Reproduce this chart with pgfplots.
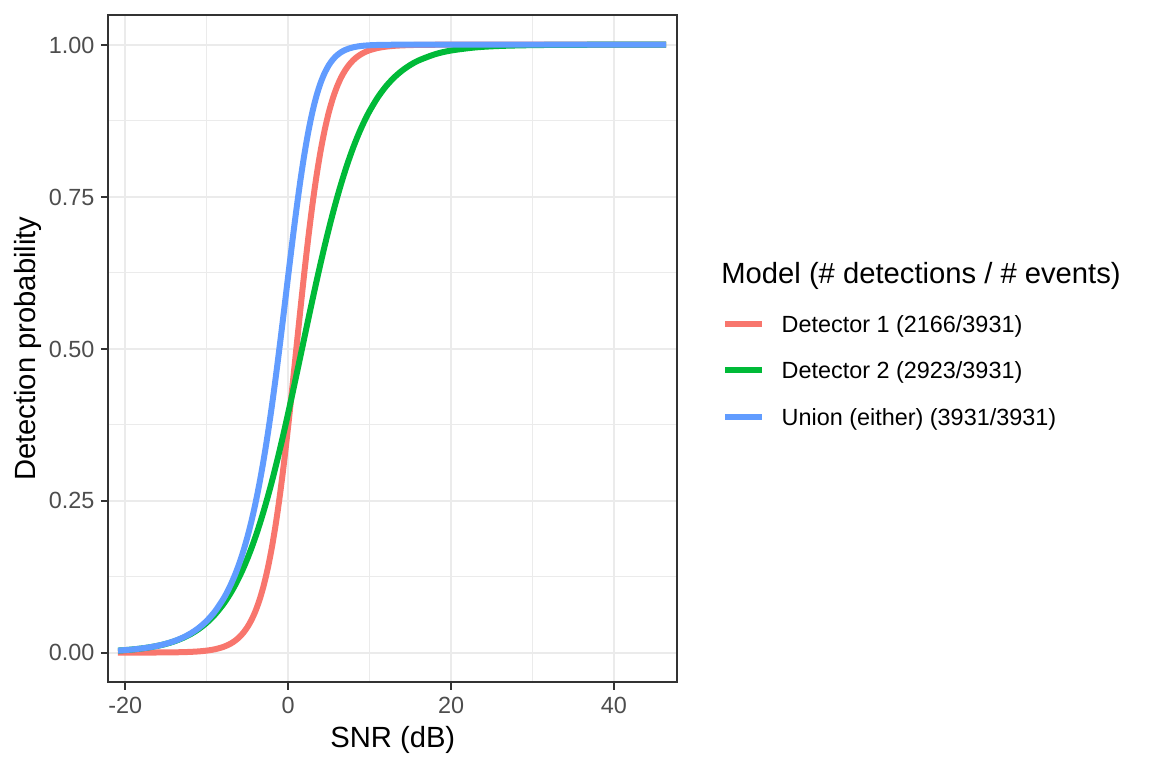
\documentclass[border=0pt]{standalone}
\usepackage{pgfplots}
\pgfplotsset{compat=1.18}
\usepackage{fontspec}
\setmainfont{Liberation Sans}
\definecolor{cred}{HTML}{F8766D}
\definecolor{cgreen}{HTML}{00BA38}
\definecolor{cblue}{HTML}{619CFF}
\definecolor{gridc}{HTML}{EBEBEB}
\definecolor{g20}{HTML}{333333}
\definecolor{g30}{HTML}{4D4D4D}
\begin{document}
\begin{tikzpicture}
\path[use as bounding box] (0,0) rectangle (576pt,384pt);
\begin{axis}[
  at={(54.15pt,42.85pt)}, anchor=south west,
  scale only axis, width=284.5pt, height=333.65pt,
  xmin=-22.09, xmax=47.78, ymin=-0.0489, ymax=1.0488,
  xtick={-20,0,20,40}, xticklabels={-20,0,20,40},
  minor xtick={-10,10,30},
  ytick={0,0.25,0.5,0.75,1},
  minor ytick={0.125,0.375,0.625,0.875},
  /pgf/number format/assume math mode=true,
  grid=both,
  major grid style={color=gridc, line width=1pt},
  minor grid style={color=gridc, line width=0.5pt},
  tick align=outside,
  major tick length=3.7pt, minor tick length=0pt,
  tick style={color=g20, line width=1pt},
  axis line style={color=g20, line width=1pt},
  xtick pos=bottom, ytick pos=left,
  ticklabel style={font=\fontsize{11.7}{14}\selectfont, text=g30},
  xticklabel style={inner sep=0pt, anchor=base, yshift=-12pt},
  yticklabel style={inner sep=0pt, anchor=east, text height=8.38pt, text depth=0pt, xshift=-3pt,
    /pgf/number format/fixed, /pgf/number format/fixed zerofill, /pgf/number format/precision=2},
  xlabel={SNR (dB)},
  ylabel={Detection probability},
  label style={font=\fontsize{14.6}{17}\selectfont, inner sep=0pt},
  xlabel style={at={(axis description cs:0.5,-0.098)}, anchor=base},
  ylabel style={at={(axis description cs:-0.1271,0.5)}, anchor=base},
  legend style={at={(1.0786,0.5494)}, anchor=north west, draw=none, fill=none,
    inner sep=0pt, outer sep=0pt, row sep=14.77pt, column sep=8.5pt,
    font=\fontsize{11.7}{14}\selectfont,
    nodes={inner sep=0pt, text height=8.38pt, text depth=0pt}},
  legend cell align=left,
  legend image code/.code={\draw[line width=3pt] (0pt,0pt) -- (18.35pt,0pt);},
  every axis plot/.append style={line width=3pt},
]
\addplot[cred, smooth] coordinates {
(-20.9,0.0000111) (-20,0.0000178) (-19,0.0000299) (-18,0.0000503) (-17,0.0000848)
(-16,0.000143) (-15,0.000240) (-14,0.000405) (-13,0.000681) (-12,0.001146)
(-11,0.001923) (-10,0.003240) (-9,0.005444) (-8,0.009124) (-7.5,0.01181)
(-7,0.01526) (-6.5,0.01971) (-6,0.02543) (-5.5,0.03277) (-5,0.04209)
(-4.5,0.05391) (-4,0.06888) (-3.5,0.08756) (-3,0.1107) (-2.5,0.1391)
(-2,0.1733) (-1.5,0.2138) (-1,0.2609) (-0.5,0.3141) (0,0.3727)
(0.5,0.4353) (1,0.5) (1.5,0.5647) (2,0.6273) (2.5,0.6859)
(3,0.7391) (3.5,0.7862) (4,0.8267) (4.5,0.8609) (5,0.8893)
(5.5,0.9124) (6,0.9311) (6.5,0.9461) (7,0.9579) (7.5,0.9672)
(8,0.9746) (8.5,0.9803) (9,0.9847) (9.5,0.9882) (10,0.9909)
(11,0.99456) (12,0.99676) (13,0.99808) (14,0.99885) (15,0.99932)
(16,0.99960) (18,0.99986) (20,0.99995) (23,0.99999) (26,1.0)
(30,1.0) (35,1.0) (40,1.0) (46.4,1.0)
};
\addlegendentry{Detector 1 (2166/3931)}
\addplot[cgreen, smooth] coordinates {
(-20.9,0.003264) (-20,0.004096) (-19,0.005270) (-18,0.006778) (-17,0.008712)
(-16,0.011193) (-15,0.014370) (-14,0.018434) (-13,0.023619) (-12,0.030218)
(-11,0.038582) (-10,0.049158) (-9,0.062433) (-8,0.079002) (-7.5,0.088722)
(-7,0.099505) (-6.5,0.111425) (-6,0.124650) (-5.5,0.139120) (-5,0.154970)
(-4.5,0.172250) (-4,0.191070) (-3.5,0.211420) (-3,0.233280) (-2.5,0.256680)
(-2,0.281560) (-1.5,0.307860) (-1,0.335460) (-0.5,0.364240) (0,0.394030)
(0.5,0.424630) (1,0.455810) (1.5,0.487350) (2,0.51897) (2.5,0.55045)
(3,0.58153) (3.5,0.61200) (4,0.64160) (4.5,0.67016) (5,0.69750)
(5.5,0.72354) (6,0.74813) (6.5,0.77119) (7,0.79277) (7.5,0.81281)
(8,0.83134) (8.5,0.84833) (9,0.86393) (9.5,0.87811) (10,0.89102)
(11,0.91329) (12,0.93135) (13,0.94588) (14,0.95746) (15,0.96666)
(16,0.97392) (18,0.98412) (20,0.99037) (23,0.99547) (26,0.99788)
(30,0.99923) (35,0.99978) (40,0.99994) (46.4,0.99999)
};
\addlegendentry{Detector 2 (2923/3931)}
\addplot[cblue, smooth] coordinates {
(-20.9,0.003275) (-20,0.004114) (-19,0.005300) (-18,0.006828) (-17,0.008796)
(-16,0.011334) (-15,0.014607) (-14,0.018832) (-13,0.024284) (-12,0.031329)
(-11,0.040431) (-10,0.052239) (-9,0.067537) (-8,0.087405) (-7.5,0.099484)
(-7,0.113247) (-6.5,0.128939) (-6,0.14691) (-5.5,0.16733) (-5,0.19054)
(-4.5,0.21687) (-4,0.24679) (-3.5,0.28047) (-3,0.31816) (-2.5,0.36008)
(-2,0.40607) (-1.5,0.45584) (-1,0.50884) (-0.5,0.56393) (0,0.61988)
(0.5,0.67509) (1,0.72791) (1.5,0.77684) (2,0.82072) (2.5,0.85880)
(3,0.89082) (3.5,0.91705) (4,0.93789) (4.5,0.95412) (5,0.96651)
(5.5,0.97578) (6,0.98265) (6.5,0.98767) (7,0.99128) (7.5,0.99386)
(8,0.99572) (8.5,0.99701) (9,0.99792) (9.5,0.99856) (10,0.99901)
(11,0.99953) (12,0.99978) (13,0.99990) (14,0.99995) (15,0.99998)
(16,0.99999) (18,1.0) (20,1.0) (23,1.0) (26,1.0)
(30,1.0) (35,1.0) (40,1.0) (46.4,1.0)
};
\addlegendentry{Union (either) (3931/3931)}
\end{axis}
\node[anchor=base west, inner sep=0pt, font=\fontsize{14.6}{17}\selectfont] at (360.5pt,242.35pt) {Model (\# detections / \# events)};
\end{tikzpicture}
\end{document}
